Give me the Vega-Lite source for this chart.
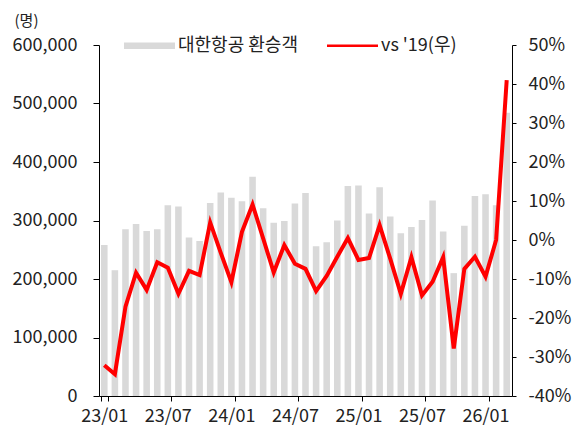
{
  "$schema": "https://vega.github.io/schema/vega-lite/v6.json",
  "width": 413,
  "height": 351,
  "autosize": {"type": "none"},
  "padding": {"left": 99, "top": 45, "right": 70, "bottom": 29},
  "background": "white",
  "config": {
    "font": "Noto Sans CJK KR",
    "view": {"stroke": null},
    "axis": {"grid": false, "domainColor": "#000000", "tickColor": "#000000", "labelColor": "#222222", "labelFontSize": 17.5, "labelFont": "Noto Sans CJK KR", "titleFont": "Noto Sans CJK KR"}
  },
  "data": {"values": [
    {"m": "23/01", "v": 258000, "r": -32.1},
    {"m": "23/02", "v": 215000, "r": -34.4},
    {"m": "23/03", "v": 285000, "r": -17.1},
    {"m": "23/04", "v": 294000, "r": -8.4},
    {"m": "23/05", "v": 282000, "r": -12.8},
    {"m": "23/06", "v": 285000, "r": -5.7},
    {"m": "23/07", "v": 326000, "r": -7.1},
    {"m": "23/08", "v": 324000, "r": -13.8},
    {"m": "23/09", "v": 271000, "r": -7.9},
    {"m": "23/10", "v": 265000, "r": -9.0},
    {"m": "23/11", "v": 330000, "r": 4.5},
    {"m": "23/12", "v": 348000, "r": -3.3},
    {"m": "24/01", "v": 339000, "r": -10.8},
    {"m": "24/02", "v": 333000, "r": 2.1},
    {"m": "24/03", "v": 375000, "r": 9.1},
    {"m": "24/04", "v": 321000, "r": 0.4},
    {"m": "24/05", "v": 296000, "r": -8.3},
    {"m": "24/06", "v": 299000, "r": -1.3},
    {"m": "24/07", "v": 329000, "r": -6.1},
    {"m": "24/08", "v": 347000, "r": -7.4},
    {"m": "24/09", "v": 256000, "r": -13.1},
    {"m": "24/10", "v": 263000, "r": -9.2},
    {"m": "24/11", "v": 300000, "r": -4.3},
    {"m": "24/12", "v": 359000, "r": 0.5},
    {"m": "25/01", "v": 360000, "r": -5.1},
    {"m": "25/02", "v": 312000, "r": -4.6},
    {"m": "25/03", "v": 357000, "r": 3.8},
    {"m": "25/04", "v": 307000, "r": -4.8},
    {"m": "25/05", "v": 278000, "r": -13.8},
    {"m": "25/06", "v": 289000, "r": -4.4},
    {"m": "25/07", "v": 301000, "r": -14.2},
    {"m": "25/08", "v": 334000, "r": -10.7},
    {"m": "25/09", "v": 281000, "r": -4.4},
    {"m": "25/10", "v": 210000, "r": -27.8},
    {"m": "25/11", "v": 291000, "r": -7.4},
    {"m": "25/12", "v": 342000, "r": -4.3},
    {"m": "26/01", "v": 345000, "r": -9.4},
    {"m": "26/02", "v": 326000, "r": 0.0},
    {"m": "26/03", "v": 484000, "r": 41.0}
  ]},
  "encoding": {
    "x": {
      "field": "m", "type": "ordinal", "sort": null,
      "scale": {"paddingInner": 0.38, "paddingOuter": 0.19},
      "axis": {
        "title": null, "labelAngle": 0, "values": ["23/01", "23/07", "24/01", "24/07", "25/01", "25/07", "26/01"],
        "tickBand": "extent", "tickSize": 5, "labelPadding": 6, "domainWidth": 1, "labelFontSize": 18
      }
    }
  },
  "layer": [
    {
      "mark": {"type": "bar", "color": "#d9d9d9"},
      "encoding": {
        "y": {
          "field": "v", "type": "quantitative",
          "scale": {"domain": [0, 600000], "nice": false},
          "axis": {
            "title": "(명)", "titleAngle": 0, "titleAlign": "center", "titleBaseline": "alphabetic",
            "titleX": -73, "titleY": -20, "titleFontSize": 15, "titleFontWeight": "normal", "titleColor": "#222222",
            "values": [0, 100000, 200000, 300000, 400000, 500000, 600000],
            "format": ",d", "tickSize": 6, "labelPadding": 16, "labelFontSize": 18
          }
        },
        "color": {
          "datum": "대한항공 환승객", "type": "nominal",
          "scale": {"domain": ["대한항공 환승객", "vs '19(우)"], "range": ["#d9d9d9", "#ff0000"]},
          "legend": {
            "orient": "none", "legendX": 25, "legendY": -25, "direction": "horizontal", "title": null,
            "symbolType": "M-1,-0.09H1V0.09H-1Z", "symbolSize": 2601, "symbolStrokeWidth": 0,
            "labelFontSize": 18, "labelOffset": 3, "columnPadding": 29, "padding": 0, "labelColor": "#222222",
            "encode": {"symbols": {"update": {
              "shape": {"signal": "datum.value === '대한항공 환승객' ? 'M-1,-0.13H1V0.13H-1Z' : 'M-1,-0.045H1V0.045H-1Z'"},
              "fill": {"signal": "datum.value === '대한항공 환승객' ? '#d9d9d9' : '#ff0000'"},
              "stroke": {"value": "transparent"},
              "opacity": {"value": 1}
            }}}
          }
        }
      }
    },
    {
      "mark": {"type": "line", "color": "#ff0000", "strokeWidth": 4},
      "encoding": {
        "y": {
          "field": "r", "type": "quantitative",
          "scale": {"domain": [-40, 50], "nice": false},
          "axis": {
            "orient": "right", "title": null,
            "values": [-40, -30, -20, -10, 0, 10, 20, 30, 40, 50],
            "labelExpr": "datum.value + '%'", "tickSize": 4, "labelPadding": 12, "labelFontSize": 18
          }
        },
        "color": {"datum": "vs '19(우)", "type": "nominal"}
      }
    }
  ],
  "resolve": {"scale": {"y": "independent"}}
}
